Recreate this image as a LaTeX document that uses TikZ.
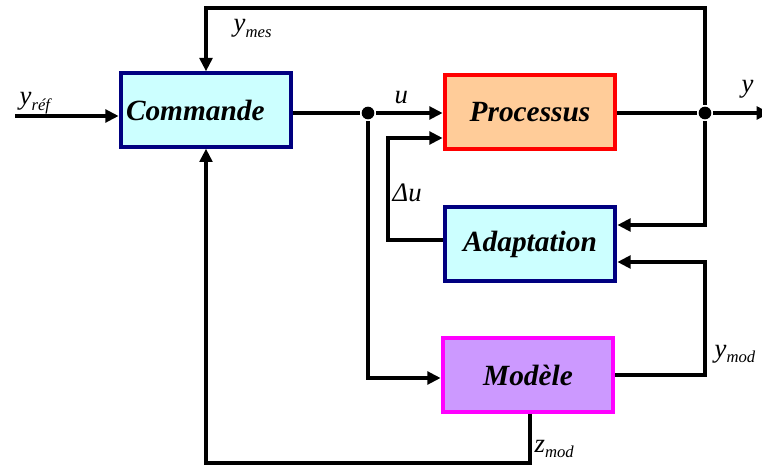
\documentclass[tikz,border=0pt]{standalone}
\usepackage{fontspec}
\setmainfont{Liberation Serif}
\usetikzlibrary{arrows.meta}
\definecolor{cyanfill}{RGB}{204,255,255}
\definecolor{navyline}{RGB}{0,0,128}
\definecolor{peachfill}{RGB}{255,204,153}
\definecolor{redline}{RGB}{255,0,0}
\definecolor{violetfill}{RGB}{204,153,255}
\definecolor{magentaline}{RGB}{255,0,255}
\newcommand{\indice}[1]{\raisebox{-0.2em}{\fontsize{12.5}{12.5}\selectfont #1}}

\begin{document}
\begin{tikzpicture}[x=0.75pt, y=-0.75pt, line width=2.6pt, >={Triangle[length=10pt,width=9.5pt]},
  bloc/.style={draw, line width=3pt, minimum width=128pt, minimum height=55pt, inner sep=0pt,
    font=\fontsize{22}{22}\selectfont\bfseries\itshape},
  lbl/.style={anchor=base west, inner sep=0pt, font=\fontsize{20}{20}\selectfont\itshape},
  junction/.style={circle, fill, inner sep=0pt, minimum size=9.5pt}]
  \useasboundingbox (0,0) rectangle (762,466);
  % blocks
  \node[bloc, fill=cyanfill, draw=navyline, text width=120pt] (cmd) at (206,110) {Commande};
  \node[bloc, fill=peachfill, draw=redline] (proc) at (530,112) {Processus};
  \node[bloc, fill=cyanfill, draw=navyline] (adapt) at (530,244) {Adaptation};
  \node[bloc, fill=violetfill, draw=magentaline] (mod) at (528,375) {Modèle};
  % reference input and control u
  \coordinate (yin) at (15,116);
  \draw[->] (yin) -- (yin -| cmd.west);
  \node[junction] (nu) at (368,113) {};
  \draw (cmd.east |- nu) -- (nu);
  \draw[->] (nu) -- (nu -| proc.west);
  % process output y
  \node[junction] (ny) at (705,113) {};
  \draw (proc.east |- ny) -- (ny);
  \coordinate (yout) at (770,113);
  \draw[->] (ny) -- (yout);
  % measured output back to the controller
  \coordinate (ytop) at (705,8);
  \draw[->] (ny) -- (ytop) -| (cmd.north);
  % y into adaptation
  \coordinate (yad) at (705,225);
  \draw[->] (ny) -- (yad) -- (yad -| adapt.east);
  % correction Delta u
  \coordinate (du) at (388,240);
  \coordinate (dutop) at (388,138);
  \draw[->] (adapt.west |- du) -- (du) -- (dutop) -- (dutop -| proc.west);
  % u into the model
  \coordinate (um) at (368,378);
  \draw[->] (nu) -- (um) -- (um -| mod.west);
  % model output into adaptation
  \coordinate (ym) at (705,375);
  \coordinate (ymtop) at (705,262);
  \draw[->] (mod.east |- ym) -- (ym) -- (ymtop) -- (ymtop -| adapt.east);
  % model state back to the controller
  \coordinate (zm) at (530,463);
  \draw[->] (zm |- mod.south) -- (zm) -| (cmd.south);
  % signal labels
  \node[lbl] (lyref) at (18,105) {y\indice{réf}};
  \node[lbl] (lymes) at (232,32) {y\indice{mes}};
  \node[lbl] (lu) at (393,104) {u};
  \node[lbl] (ly) at (740,93) {y};
  \node[lbl] (ldu) at (391,202) {Δu};
  \node[lbl] (lymod) at (713,357) {y\indice{mod}};
  \node[lbl] (lzmod) at (533,452) {z\indice{mod}};
\end{tikzpicture}
\end{document}
